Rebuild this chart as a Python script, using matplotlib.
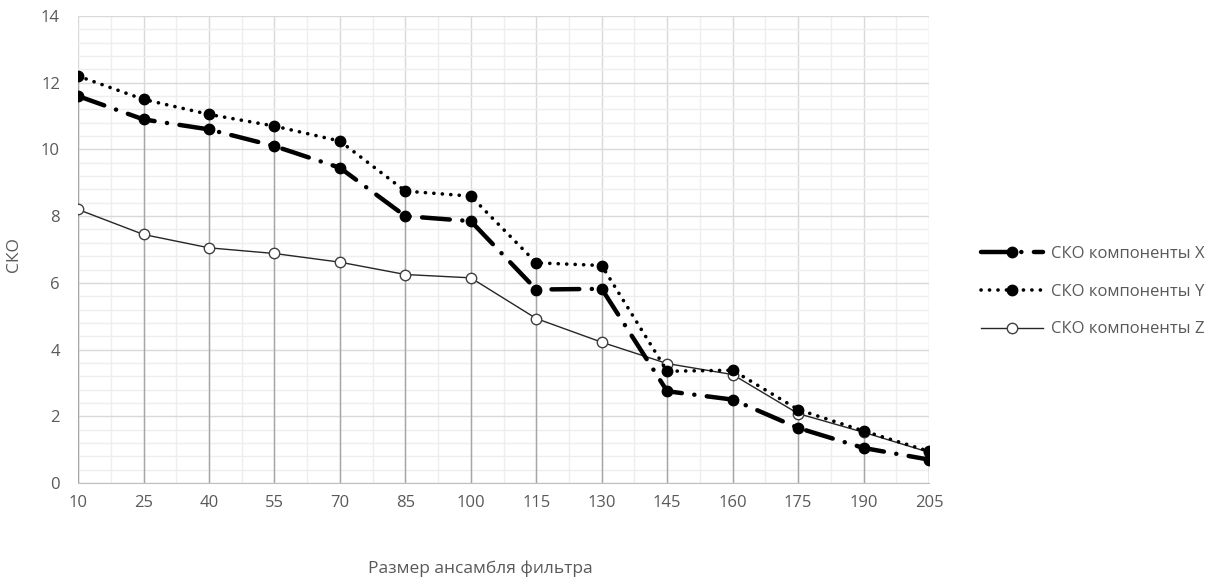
import matplotlib.pyplot as plt
import numpy as np

plt.rcParams['font.family'] = ['Open Sans', 'DejaVu Sans']
plt.rcParams['lines.scale_dashes'] = False

sizes = [10, 25, 40, 55, 70, 85, 100, 115, 130, 145, 160, 175, 190, 205]
sko_x = [11.6, 10.9, 10.6, 10.1, 9.45, 8.0, 7.85, 5.8, 5.82, 2.75, 2.5, 1.65, 1.05, 0.7]
sko_y = [12.2, 11.5, 11.05, 10.7, 10.25, 8.75, 8.6, 6.6, 6.52, 3.35, 3.38, 2.2, 1.56, 0.95]
sko_z = [8.2, 7.45, 7.05, 6.88, 6.62, 6.25, 6.15, 4.93, 4.22, 3.58, 3.25, 2.08, 1.52, 0.92]

txt = '#595959'
pos = np.arange(len(sizes))

fig = plt.figure(figsize=(12.31, 5.86), dpi=100)
ax = fig.add_axes([0.0634, 0.1758, 0.6913, 0.7969])

# grid: minor lines every half category / 0.4, major every category / 2
ax.set_xlim(0, len(sizes) - 1)
ax.set_ylim(0, 14)
ax.set_xticks(pos)
ax.set_xticks(pos[:-1] + 0.5, minor=True)
ax.set_yticks(np.arange(0, 15, 2))
ax.set_yticks(np.arange(0, 14.01, 0.4), minor=True)
ax.grid(which='minor', color='#eeeeee', lw=1)
ax.grid(which='major', color='#d9d9d9', lw=1)
ax.set_axisbelow(True)

# drop lines from the top series down to zero
tops = np.maximum(np.maximum(sko_x, sko_y), sko_z)
ax.vlines(pos, 0, tops, color='#a6a6a6', lw=1, zorder=2)

lx, = ax.plot(pos, sko_x, color='black', lw=3.2, marker='o', ms=7.5,
              dash_capstyle='round', zorder=4, label='СКО компоненты X')
lx.set_dashes((20, 9, 0.1, 9))
ly, = ax.plot(pos, sko_y, color='black', lw=2.6, marker='o', ms=7.5,
              dash_capstyle='round', zorder=4, label='СКО компоненты Y')
ly.set_dashes((0.1, 6))
ax.plot(pos, sko_z, color='#262626', lw=1, marker='o', ms=7.5, mfc='white',
        mec='#404040', mew=1, zorder=3, label='СКО компоненты Z')

for s in ['top', 'right', 'left']:
    ax.spines[s].set_visible(False)
ax.spines['bottom'].set_color('#bfbfbf')
ax.tick_params(which='both', length=0, labelsize=12, colors=txt, pad=9)
ax.tick_params(axis='y', pad=13)
ax.set_xticklabels([str(s) for s in sizes])

ax.set_ylabel('СКО', fontsize=12.5, color=txt)
ax.yaxis.set_label_coords(-0.066, 0.49)
fig.text(0.39, 0.022, 'Размер ансамбля фильтра', fontsize=12.5, color=txt, ha='center')

leg = fig.legend(loc='center left', bbox_to_anchor=(0.785, 0.502), frameon=False,
                 fontsize=12, handlelength=3.7, labelspacing=1.3, handletextpad=0.5)
for t in leg.get_texts():
    t.set_color(txt)

fig.savefig('out.png', dpi=100)
